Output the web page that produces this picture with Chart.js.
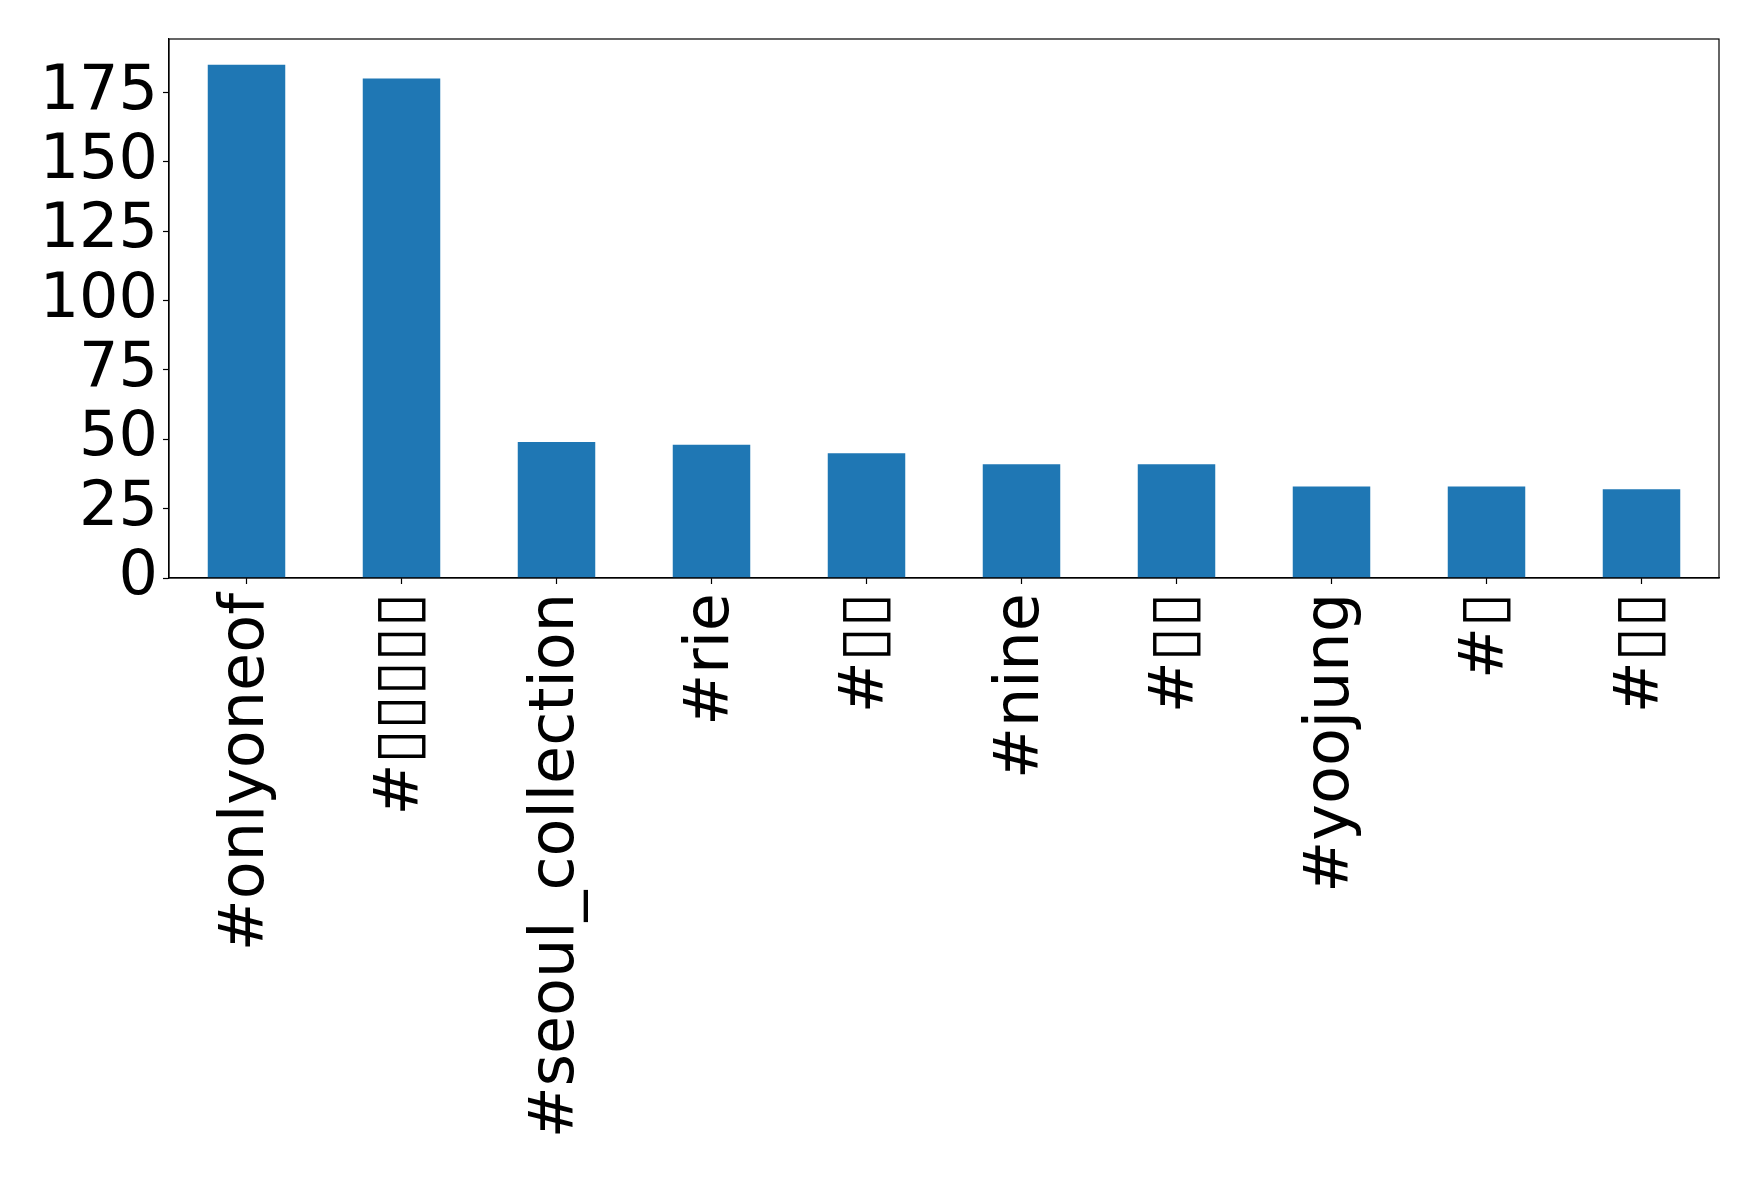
<!DOCTYPE html>
<html>
<head>
<meta charset="utf-8">
<script src="https://cdn.jsdelivr.net/npm/chart.js@4"></script>
<style>
html,body{margin:0;padding:0;background:#fff;}
canvas{display:block;}
</style>
</head>
<body>
<canvas id="c" width="1758" height="1178"></canvas>
<script>
const categories = ["#onlyoneof", "#▯▯▯▯▯", "#seoul_collection", "#rie", "#▯▯", "#nine", "#▯▯", "#yoojung", "#▯", "#▯▯"];
const counts = [185, 180, 49, 48, 45, 41, 41, 33, 33, 32];
const yTickStep = 25;
const yMax = 194.25;

const frame = {
  id: 'frame',
  afterDraw(chart) {
    const a = chart.chartArea, ctx = chart.ctx;
    ctx.save();
    ctx.strokeStyle = '#000';
    ctx.lineWidth = 1.2;
    ctx.strokeRect(a.left, a.top, a.right - a.left, a.bottom - a.top);
    ctx.restore();
  }
};

Chart.defaults.font.family = "'DejaVu Sans', sans-serif";
Chart.defaults.color = '#000';

new Chart(document.getElementById('c'), {
  type: 'bar',
  data: {
    labels: categories,
    datasets: [{
      data: counts,
      backgroundColor: '#1f77b4',
      borderWidth: 0,
      categoryPercentage: 1.0,
      barPercentage: 0.5
    }]
  },
  options: {
    responsive: false,
    animation: false,
    layout: { padding: { top: 39, right: 39, left: 0, bottom: 0 } },
    plugins: { legend: { display: false }, tooltip: { enabled: false } },
    scales: {
      x: {
        offset: true,
        grid: { display: true, offset: false, drawOnChartArea: false, drawTicks: true, tickLength: 6, color: '#000', tickWidth: 1.2 },
        border: { display: true, color: '#000', width: 1.2 },
        ticks: { minRotation: 90, maxRotation: 90, autoSkip: false, padding: 9, font: { size: 62 }, color: '#000' },
        afterFit(scale) { scale.height = 600; scale.paddingLeft = 0; scale.paddingRight = 0; }
      },
      y: {
        min: 0,
        max: yMax,
        grid: { display: true, drawOnChartArea: false, drawTicks: true, tickLength: 6, color: '#000', tickWidth: 1.2 },
        border: { display: true, color: '#000', width: 1.2 },
        ticks: { stepSize: yTickStep, includeBounds: false, autoSkip: false, padding: 5, font: { size: 62 }, color: '#000' },
        afterFit(scale) { scale.width = 169; scale.paddingTop = 0; scale.paddingBottom = 0; }
      }
    }
  },
  plugins: [frame]
});
</script>
</body>
</html>
